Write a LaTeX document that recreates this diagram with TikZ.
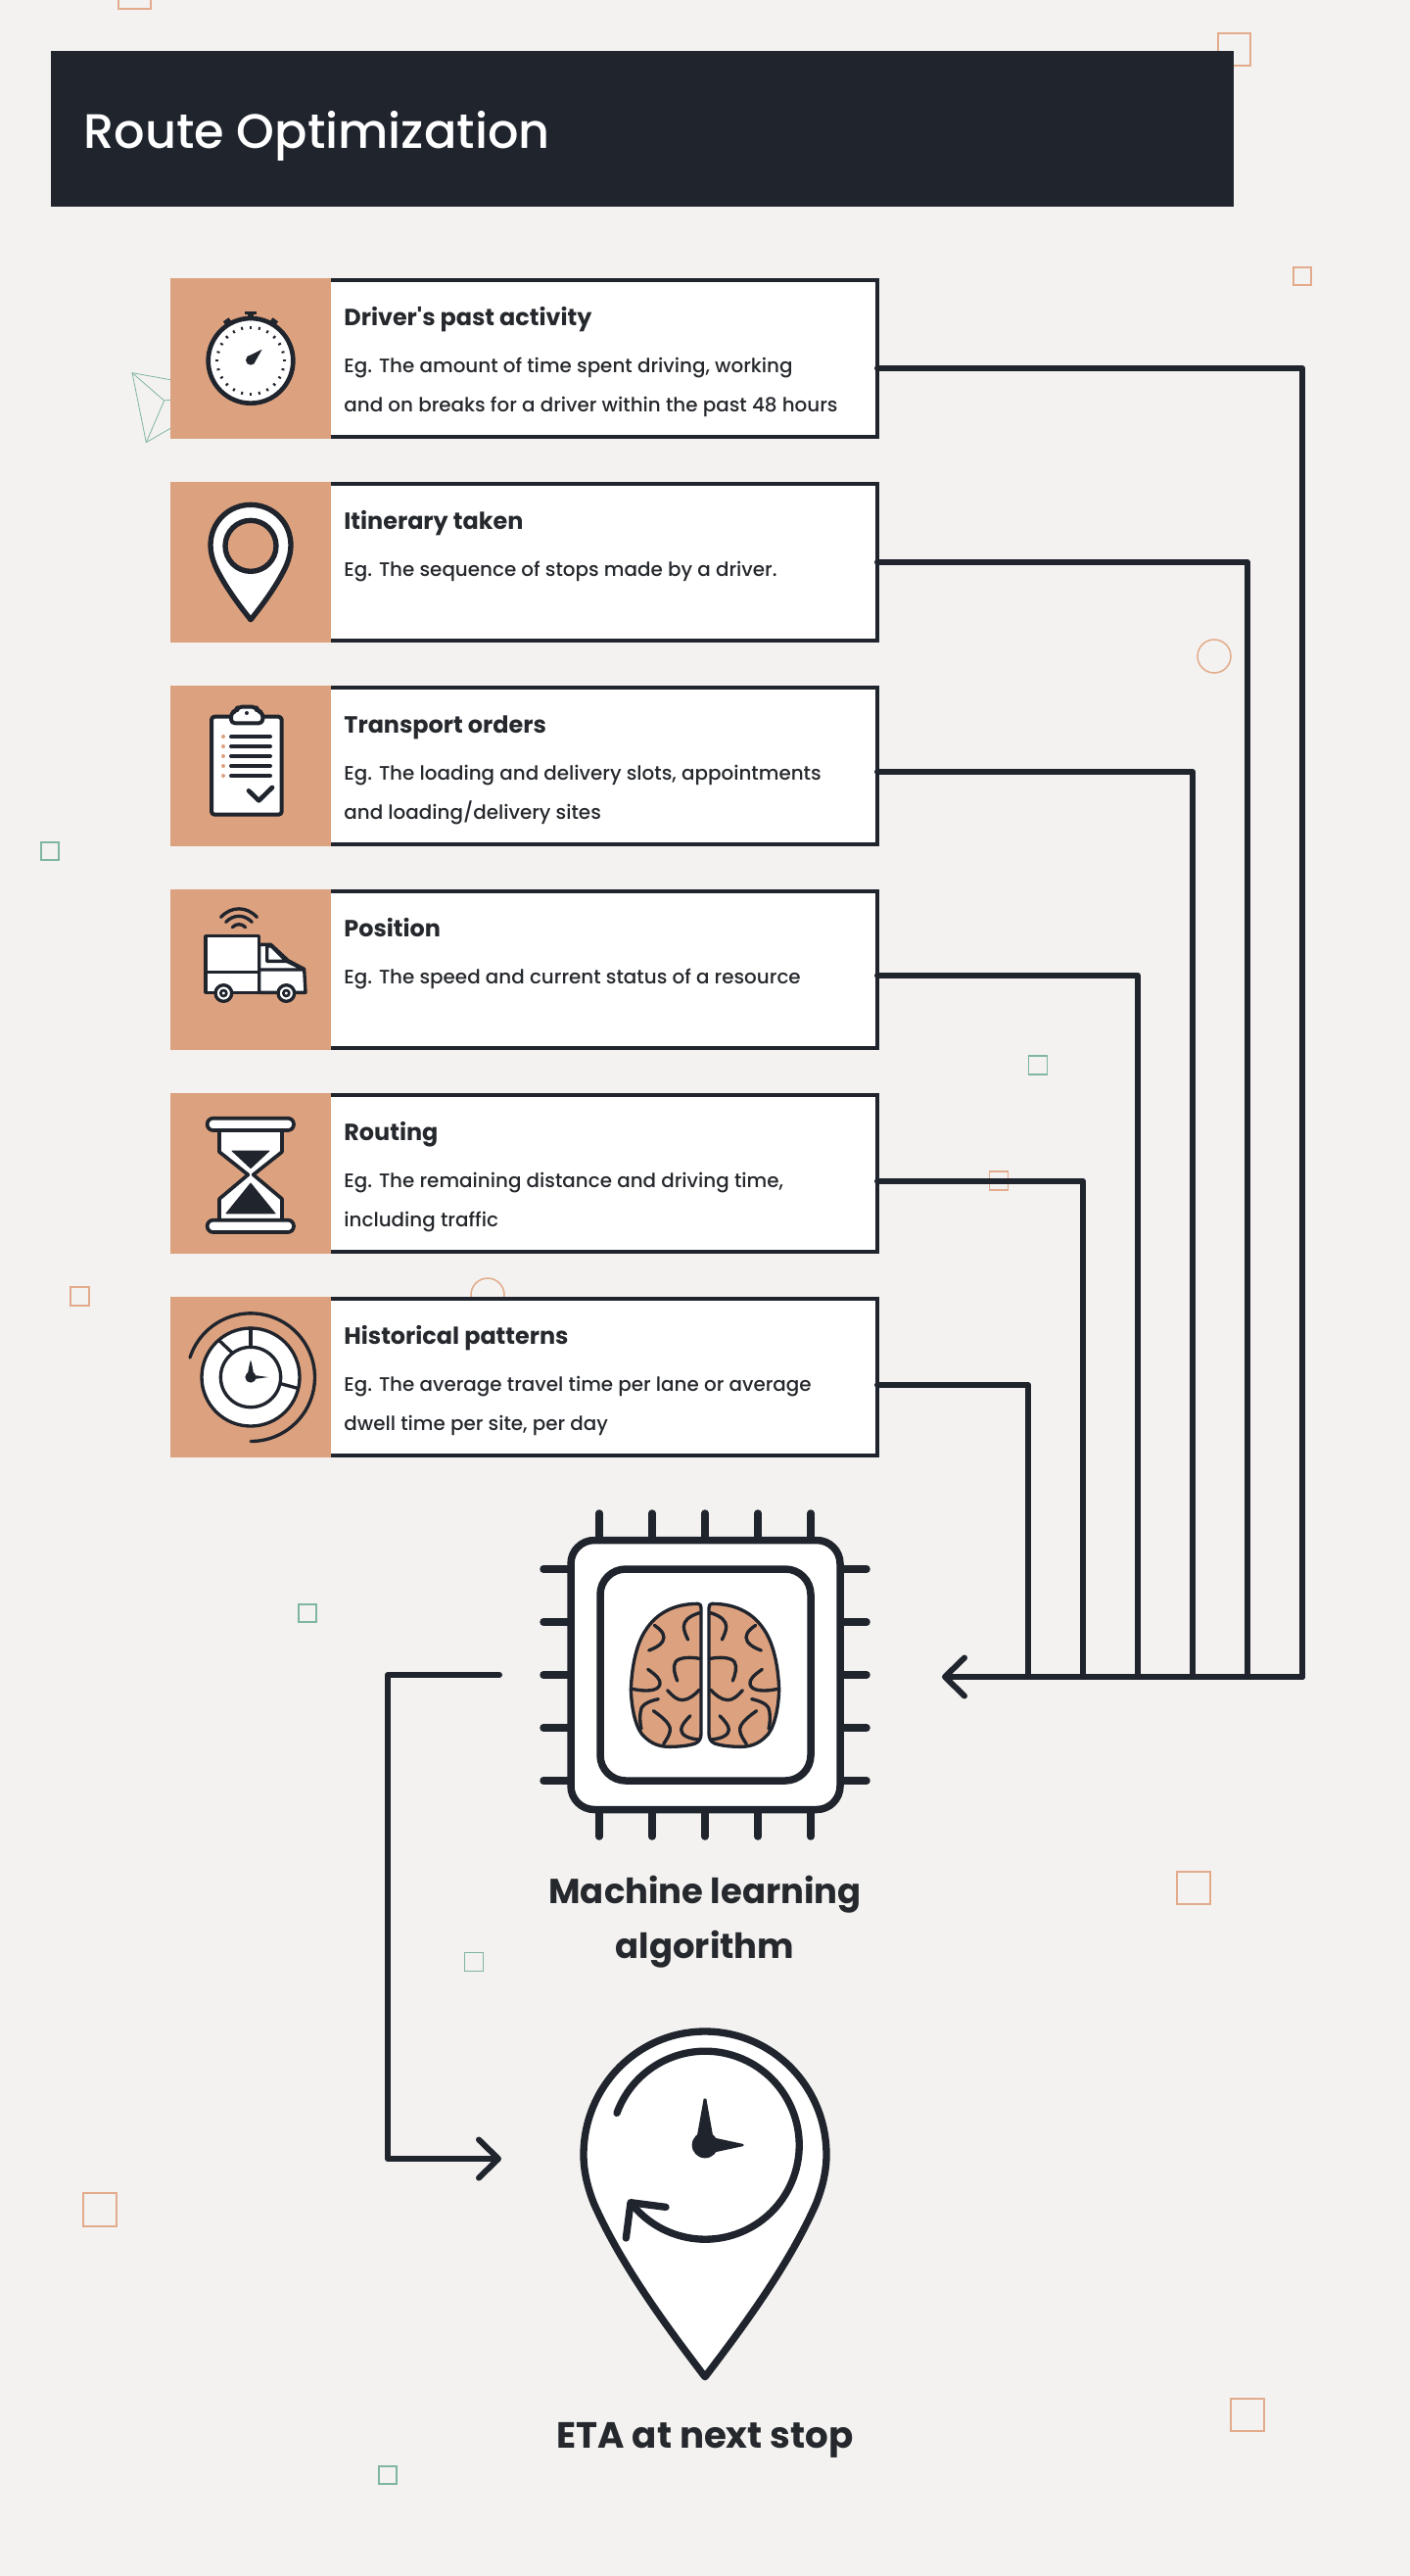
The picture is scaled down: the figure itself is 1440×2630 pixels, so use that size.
\documentclass[tikz,border=0pt]{standalone}
\usepackage{fontspec}
\usetikzlibrary{arrows.meta}
\setmainfont{Poppins}
\newfontfamily\bodyfont{Poppins Medium}
\newfontfamily\headfont{Poppins Medium}
\newfontfamily\titlefont{Poppins}[BoldFont={Poppins Bold}]
\definecolor{pagebg}{HTML}{F3F2F0}
\definecolor{ink}{HTML}{1F242D}
\definecolor{txt}{HTML}{25282C}
\definecolor{clay}{HTML}{DCA17E}
\definecolor{claysq}{HTML}{E3AB8B}
\definecolor{mint}{HTML}{7FB5A3}
\tikzset{
  ln/.style={line width=#1*0.16667pt},
  zoomed/.style={x=0.16667pt,y=-0.16667pt,line cap=round,line join=round,draw=ink},
  rowbox/.style={draw=ink,fill=white,line width=2pt,minimum width=283pt,minimum height=80pt,inner sep=0pt,outer sep=0pt},
  iconbox/.style={fill=clay,minimum width=82pt,minimum height=82pt,inner sep=0pt,outer sep=0pt},
  rowtitle/.style={anchor=base west,inner sep=0pt,font=\titlefont\bfseries\fontsize{11.95}{14}\selectfont,text=txt},
  rowbody/.style={anchor=base west,inner sep=0pt,font=\bodyfont\fontsize{9.95}{13}\selectfont,text=txt},
  bigcap/.style={anchor=base,inner sep=0pt,font=\titlefont\bfseries\fontsize{17.7}{23}\selectfont,text=txt},
  wire/.style={draw=ink,line width=3pt,line cap=round,line join=round},
  tipped/.style={wire,-{Straight Barb[round,length=10pt,width=19.5pt]}},
  osq/.style={draw=claysq,line width=0.75pt,fill=none},
  gsq/.style={draw=mint,line width=0.6pt,fill=none},
}
\newcommand{\brainhalf}{%
  \draw[ln=10,fill=clay] (548,322) .. controls (470,322) and (420,355) .. (390,400) .. controls (355,450) and (345,530) .. (343,585) .. controls (345,650) and (360,710) .. (385,730) .. controls (405,750) and (430,760) .. (460,760) .. controls (490,760) and (520,757) .. (540,750) .. controls (552,745) and (558,735) .. (558,720) -- (558,335) .. controls (558,326) and (555,322) .. (548,322) -- cycle;
  \draw[ln=10] (415,388) .. controls (440,405) and (450,420) .. (440,438) .. controls (430,452) and (415,458) .. (398,465);
  \draw[ln=10] (553,350) .. controls (520,360) and (505,375) .. (505,392) .. controls (505,405) and (512,420) .. (518,432);
  \draw[ln=10] (553,490) .. controls (530,485) and (490,485) .. (480,500) .. controls (470,515) and (478,540) .. (485,558);
  \draw[ln=10] (395,523) .. controls (420,540) and (435,555) .. (432,568) .. controls (428,590) and (390,592) .. (347,583);
  \draw[ln=10] (455,587) .. controls (470,605) and (485,617) .. (500,617) .. controls (520,617) and (540,600) .. (553,585);
  \draw[ln=10] (427,614) .. controls (390,622) and (372,635) .. (372,655) .. controls (370,675) and (372,695) .. (375,705);
  \draw[ln=10] (412,650) .. controls (440,670) and (465,690) .. (463,710) .. controls (462,725) and (450,740) .. (443,752);
  \draw[ln=10] (525,665) .. controls (510,680) and (497,695) .. (497,708) .. controls (497,725) and (520,735) .. (550,738);
}
\begin{document}
\begin{tikzpicture}[x=0.5pt,y=-0.5pt]
\useasboundingbox (0,0) rectangle (1440,2630);
\fill[pagebg] (0,0) rectangle (1440,2630);

% decorations
\draw[osq] (121,-25) rectangle (154,9);
\draw[osq] (1244,34) rectangle (1277,67);
\draw[osq] (1321,273) rectangle (1339,291);
\draw[gsq] (42,860) rectangle (60,878);
\draw[osq] (1240,670) circle[radius=17];
\draw[gsq] (1050.5,1078) rectangle (1069.5,1097);
\draw[osq] (1010.5,1196) rectangle (1029.5,1215);
\draw[osq] (72,1314) rectangle (91,1333);
\draw[osq] (498,1322) circle[radius=17];
\draw[gsq] (305,1638) rectangle (323,1656);
\draw[osq] (1202,1911) rectangle (1236,1944);
\draw[gsq] (474.5,1993.5) rectangle (493.5,2012.5);
\draw[osq] (85,2239) rectangle (119,2273);
\draw[osq] (1257,2449) rectangle (1291,2482);
\draw[gsq] (387,2518) rectangle (405,2536);
\begin{scope}[shift={(100,260)},x=0.16667pt,y=-0.16667pt]
  \draw[draw=mint,line width=0.4pt,line join=round] (105,362) -- (148,575) -- (260,510);
  \draw[draw=mint,line width=0.4pt] (105,362) -- (260,390);
  \draw[draw=mint,line width=0.4pt] (105,362) -- (203,447) -- (148,575);
  \draw[draw=mint,line width=0.4pt] (203,447) -- (260,440);
\end{scope}

% header
\node[fill=ink,minimum width=604pt,minimum height=79.5pt,inner sep=0pt,outer sep=0pt] (header) at (656,131.5) {};
\node[anchor=base west,inner sep=0pt,font=\headfont\fontsize{24.7}{30}\selectfont,text=white] (headertext) at (85,151) {Route Optimization};

% rows
\foreach \n/\y in {1/366,2/574,3/782,4/990,5/1198,6/1406}{
  \node[rowbox] (box\n) at (613,\y) {};
  \node[iconbox] (icon\n) at (256,\y) {};
}
\node[rowtitle] (t1) at (351,332) {Driver's past activity};
\node[rowbody] (b1a) at (351,380) {Eg. The amount of time spent driving, working};
\node[rowbody] (b1b) at (351,420) {and on breaks for a driver within the past 48 hours};
\node[rowtitle] (t2) at (351,540) {Itinerary taken};
\node[rowbody] (b2a) at (351,588) {Eg. The sequence of stops made by a driver.};
\node[rowtitle] (t3) at (351,748) {Transport orders};
\node[rowbody] (b3a) at (351,796) {Eg. The loading and delivery slots, appointments};
\node[rowbody] (b3b) at (351,836) {and loading/delivery sites};
\node[rowtitle] (t4) at (351,956) {Position};
\node[rowbody] (b4a) at (351,1004) {Eg. The speed and current status of a resource};
\node[rowtitle] (t5) at (351,1164) {Routing};
\node[rowbody] (b5a) at (351,1212) {Eg. The remaining distance and driving time,};
\node[rowbody] (b5b) at (351,1252) {including traffic};
\node[rowtitle] (t6) at (351,1372) {Historical patterns};
\node[rowbody] (b6a) at (351,1420) {Eg. The average travel time per lane or average};
\node[rowbody] (b6b) at (351,1460) {dwell time per site, per day};

% stopwatch
\begin{scope}[shift={(100,260)},zoomed]
  \fill[ink] (450,174) rectangle (487,182);
  \fill[ink] (458,180) rectangle (478,194);
  \draw[ln=15,line cap=butt] (388,211) -- (405,199);
  \draw[ln=15,line cap=butt] (531,199) -- (548,211);
  \draw[ln=14,fill=white] (468,325) circle[radius=130];
  \foreach \a in {0,15,...,345}{
    \draw[ln=6,line cap=butt] ([shift={(\a:98)}]468,325) -- ([shift={(\a:107)}]468,325);
  }
  \fill[ink] (503,290) -- (478,334) -- (458,312) -- cycle;
  \fill[ink] (468,323) circle[radius=15];
\end{scope}

% location pin
\begin{scope}[shift={(100,260)},zoomed]
  \draw[ln=16,fill=white] (468,1118) .. controls (420,1058) and (380,1000) .. (358,950) .. controls (350,930) and (345,910) .. (345,890) .. controls (345,820) and (400,766) .. (468,766) .. controls (536,766) and (591,820) .. (591,890) .. controls (591,910) and (586,930) .. (578,950) .. controls (556,1000) and (516,1058) .. (468,1118) -- cycle;
  \draw[ln=16,fill=clay] (468,892) circle[radius=78];
\end{scope}

% clipboard and truck
\begin{scope}[shift={(160,680)},zoomed]
  \draw[ln=12,fill=white,rounded corners=1.6pt] (168,155) rectangle (383,455);
  \draw[ln=12,fill=white,rounded corners=2pt] (228,175) -- (228,142) -- (245,138) -- (248,125) -- (305,125) -- (308,138) -- (325,142) -- (325,175) -- cycle;
  \fill[ink] (276,144) circle[radius=6];
  \foreach \yy in {216,246,276,306,336}{
    \draw[ln=12] (228,\yy) -- (348,\yy);
    \fill[clay] (204,\yy) circle[radius=6];
  }
  \draw[ln=14] (282,382) -- (313,412) -- (354,372);
  % truck
  \draw[ln=10] (197,769) .. controls (228,735) and (276,735) .. (307,769);
  \draw[ln=10] (212,784) .. controls (236,760) and (268,760) .. (292,784);
  \draw[ln=10] (232,800) .. controls (244,788) and (260,788) .. (272,800);
  \draw[ln=10,fill=white] (314,853) -- (350,853) -- (403,902) -- (452,928) -- (456,1000) -- (314,1000) -- cycle;
  \draw[ln=10,fill=white] (338,858) -- (352,858) -- (398,904) -- (338,904) -- cycle;
  \draw[ln=10] (398,904) -- (452,930) -- (314,930);
  \draw[ln=10,fill=white] (150,827) rectangle (314,1000);
  \draw[ln=10] (150,937) -- (314,937);
  \foreach \cx in {205,397}{
    \draw[ln=10,fill=white] (\cx,1002) circle[radius=25];
    \draw[ln=8] (\cx,1002) circle[radius=9];
  }
\end{scope}

% hourglass and historical clock
\begin{scope}[shift={(160,1100)},zoomed]
  \draw[ln=11,fill=white] (192,160) -- (192,228) -- (280,298) -- (192,372) -- (192,438) -- (384,438) -- (384,372) -- (296,298) -- (384,228) -- (384,160) -- cycle;
  \draw[ln=11,fill=white,rounded corners=3pt] (155,125) rectangle (420,162);
  \draw[ln=11,fill=white,rounded corners=3pt] (155,437) rectangle (420,474);
  \fill[ink,rounded corners=0.4pt] (228,224) -- (348,224) -- (288,280) -- cycle;
  \fill[ink,rounded corners=0.4pt] (288,322) -- (366,418) -- (210,418) -- cycle;
\end{scope}
\begin{scope}[shift={(160,1100)},zoomed]
  \draw[ln=10] (102,858) arc[start angle=198,end angle=450,radius=196];
  \draw[ln=10,fill=white] (288,918) circle[radius=150];
  \draw[ln=10] (288,768) -- (288,826);
  \draw[ln=10] (192,806) -- (230,842);
  \draw[ln=10] (380,938) -- (432,952);
  \draw[ln=10] (288,918) circle[radius=92];
  \fill[ink] (288,918) circle[radius=17];
  \fill[ink] (284,880) -- (288,865) -- (292,880) -- (298,912) -- (278,912) -- cycle;
  \fill[ink] (298,912) -- (342,918) -- (298,924) -- cycle;
\end{scope}

% chip
\foreach \p in {612,666,720,774,828}{
  \draw[wire,line width=3.75pt] (\p,1545) -- (\p,1875);
}
\foreach \p in {1602,1656,1710,1764,1818}{
  \draw[wire,line width=3.75pt] (555,\p) -- (885,\p);
}
\node[draw=ink,fill=white,line width=3.75pt,rounded corners=12pt,minimum width=137.5pt,minimum height=137.5pt,inner sep=0pt,outer sep=0pt] (chip) at (720.5,1710) {};
\node[draw=ink,fill=white,line width=3.75pt,rounded corners=13pt,minimum width=107.5pt,minimum height=108pt,inner sep=0pt,outer sep=0pt] (core) at (720.5,1710) {};
\begin{scope}[shift={(530,1530)},zoomed]
  \brainhalf
  \begin{scope}[shift={(1140,0)},xscale=-1]
    \brainhalf
  \end{scope}
\end{scope}

\node[bigcap] (ml1) at (720,1943) {Machine learning};
\node[bigcap] (ml2) at (720,1999) {algorithm};

% big pin
\begin{scope}[shift={(560,2050)},zoomed]
  \draw[ln=22,fill=white] (480,1130) .. controls (350,960) and (220,780) .. (140,600) .. controls (120,550) and (108,500) .. (108,450) .. controls (108,240) and (275,72) .. (480,72) .. controls (685,72) and (852,240) .. (852,450) .. controls (852,500) and (840,550) .. (820,600) .. controls (740,780) and (610,960) .. (480,1130) -- cycle;
  \draw[ln=22] (210,322) arc[start angle=200,end angle=501,radius=288];
  \draw[ln=22] (360,610) -- (252,596) -- (238,705);
  \fill[ink] (480,420) circle[radius=40];
  \fill[ink] (456,390) -- (476,278) -- (484,278) -- (504,390) -- cycle;
  \fill[ink] (510,398) -- (598,417) -- (598,423) -- (510,442) -- cycle;
\end{scope}
\node[bigcap,font=\titlefont\bfseries\fontsize{18.6}{23}\selectfont] (eta) at (720,2499) {ETA at next stop};

% connectors
\coordinate (bus1) at (1330,1712);
\coordinate (bus2) at (1274,1712);
\coordinate (bus3) at (1218,1712);
\coordinate (bus4) at (1162,1712);
\coordinate (bus5) at (1106,1712);
\coordinate (bus6) at (1050,1712);
\coordinate (busend) at (962,1712);
\draw[wire] ([yshift=-5pt]box1.east) -| (bus1);
\draw[wire] (box2.east) -| (bus2);
\draw[wire] ([yshift=-3pt]box3.east) -| (bus3);
\draw[wire] ([yshift=-3pt]box4.east) -| (bus4);
\draw[wire] ([yshift=-4pt]box5.east) -| (bus5);
\draw[wire] ([yshift=-4pt]box6.east) -| (bus6);
\draw[tipped] (bus1) -- (busend);
\coordinate (outstart) at (510,1710);
\coordinate (outcorner) at (396,1710);
\coordinate (outbend) at (396,2204);
\coordinate (outend) at (512,2204);
\draw[tipped] (outstart) -- (outcorner) -- (outbend) -- (outend);
\end{tikzpicture}
\end{document}
